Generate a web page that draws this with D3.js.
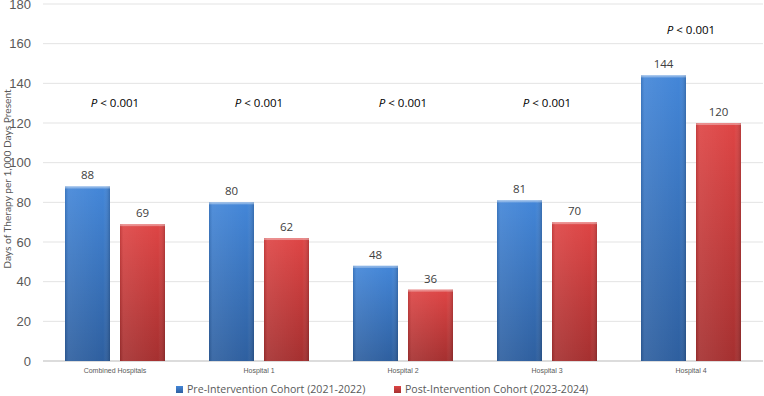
<!DOCTYPE html>
<html>
<head>
<meta charset="utf-8">
<script src="https://cdn.jsdelivr.net/npm/d3@7"></script>
<style>
  body { margin: 0; background: #fff; }
  svg { font-family: "Open Sans", "Noto Sans", sans-serif; }
</style>
</head>
<body>
<div id="chart"></div>
<script>
var categories = ["Combined Hospitals", "Hospital 1", "Hospital 2", "Hospital 3", "Hospital 4"];
var preValues = [88, 80, 48, 81, 144];
var postValues = [69, 62, 36, 70, 120];
var pLabelValues = [130, 130, 130, 130, 167];
var seriesNames = ["Pre-Intervention Cohort (2021-2022)", "Post-Intervention Cohort (2023-2024)"];
var yTicks = [0, 20, 40, 60, 80, 100, 120, 140, 160, 180];

var width = 764;
var height = 396;
var margin = { top: 4, right: 1, bottom: 35, left: 43 };
var chartWidth = width - margin.left - margin.right;
var chartHeight = height - margin.top - margin.bottom;

var svg = d3.select("#chart").append("svg")
  .attr("width", width)
  .attr("height", height);

var defs = svg.append("defs");

function addGradients(id, light, dark) {
  var v = defs.append("linearGradient").attr("id", id + "-v")
    .attr("x1", 0).attr("y1", 0).attr("x2", 0).attr("y2", 1);
  v.append("stop").attr("offset", "0%").attr("stop-color", light);
  v.append("stop").attr("offset", "100%").attr("stop-color", dark);
  var h = defs.append("linearGradient").attr("id", id + "-h")
    .attr("x1", 0).attr("y1", 0).attr("x2", 1).attr("y2", 0);
  h.append("stop").attr("offset", "0%").attr("stop-color", "#000").attr("stop-opacity", 0.12);
  h.append("stop").attr("offset", "8%").attr("stop-color", "#fff").attr("stop-opacity", 0.08);
  h.append("stop").attr("offset", "85%").attr("stop-color", "#fff").attr("stop-opacity", 0);
  h.append("stop").attr("offset", "100%").attr("stop-color", "#000").attr("stop-opacity", 0.18);
}
addGradients("blue", "#4386d8", "#2e5f9f");
addGradients("red", "#de4545", "#a53030");

var g = svg.append("g").attr("transform", "translate(" + margin.left + "," + margin.top + ")");

var x0 = d3.scaleBand().domain(categories).range([0, chartWidth]);
var y = d3.scaleLinear().domain([0, 180]).range([chartHeight, 0]);

// gridlines
g.selectAll(".grid").data(yTicks).enter().append("line")
  .attr("x1", 0).attr("x2", chartWidth)
  .attr("y1", function(d) { return y(d); })
  .attr("y2", function(d) { return y(d); })
  .attr("stroke", function(d) { return d === 0 ? "#d0d0d0" : "#e3e3e3"; })
  .attr("stroke-width", function(d) { return d === 0 ? 1.5 : 1; });

// y axis
var yAxis = g.append("g").call(d3.axisLeft(y).tickValues(yTicks).tickSize(0).tickPadding(12));
yAxis.select(".domain").remove();
yAxis.selectAll("text").attr("fill", "#595959").style("font-size", "13px");

svg.append("text")
  .attr("transform", "translate(11," + (margin.top + 175) + ") rotate(-90)")
  .attr("text-anchor", "middle")
  .attr("fill", "#595959")
  .style("font-family", "Lato, 'Open Sans', sans-serif")
  .style("font-size", "10.2px")
  .text("Days of Therapy per 1,000 Days Present");

// x axis
var xAxis = g.append("g").attr("transform", "translate(0," + chartHeight + ")")
  .call(d3.axisBottom(x0).tickSize(0).tickPadding(7));
xAxis.select(".domain").remove();
xAxis.selectAll("text").attr("fill", "#595959").style("font-size", "7px");

var barWidth = 45;
var gap = 10;

function drawBars(values, name, offset) {
  var bars = g.selectAll(".bar-" + name).data(values).enter().append("g");
  bars.append("rect")
    .attr("x", function(d, i) { return x0(categories[i]) + x0.bandwidth() / 2 + offset; })
    .attr("y", function(d) { return y(d); })
    .attr("width", barWidth)
    .attr("height", function(d) { return chartHeight - y(d); })
    .attr("fill", "url(#" + name + "-v)");
  bars.append("rect")
    .attr("x", function(d, i) { return x0(categories[i]) + x0.bandwidth() / 2 + offset; })
    .attr("y", function(d) { return y(d); })
    .attr("width", barWidth)
    .attr("height", function(d) { return chartHeight - y(d); })
    .attr("fill", "url(#" + name + "-h)");
  bars.append("rect")
    .attr("x", function(d, i) { return x0(categories[i]) + x0.bandwidth() / 2 + offset; })
    .attr("y", function(d) { return y(d); })
    .attr("width", barWidth)
    .attr("height", 2)
    .attr("fill", "#fff").attr("opacity", 0.35);
  bars.append("text")
    .attr("x", function(d, i) { return x0(categories[i]) + x0.bandwidth() / 2 + offset + barWidth / 2; })
    .attr("y", function(d) { return y(d) - 7; })
    .attr("text-anchor", "middle")
    .attr("fill", "#404040")
    .style("font-size", "11.5px")
    .text(function(d) { return d; });
}
drawBars(preValues, "blue", -barWidth - gap / 2);
drawBars(postValues, "red", gap / 2);

// p-value labels
var pLabels = g.selectAll(".plabel").data(pLabelValues).enter().append("text")
  .attr("x", function(d, i) { return x0(categories[i]) + x0.bandwidth() / 2; })
  .attr("y", function(d) { return y(d) + 4; })
  .attr("text-anchor", "middle")
  .attr("fill", "#000")
  .style("font-size", "11.5px");
pLabels.append("tspan").attr("font-style", "italic").text("P");
pLabels.append("tspan").text(" < 0.001");

// legend
var legend = svg.append("g").attr("transform", "translate(0,393)");
var legendX = [176, 394];
seriesNames.forEach(function(name, i) {
  var item = legend.append("g").attr("transform", "translate(" + legendX[i] + ",0)");
  var id = i === 0 ? "blue" : "red";
  item.append("rect").attr("x", 0).attr("y", -7).attr("width", 7).attr("height", 7)
    .attr("fill", "url(#" + id + "-v)");
  item.append("text").attr("x", 11).attr("y", 0)
    .attr("fill", "#595959")
    .style("font-size", "10.6px")
    .text(name);
});
</script>
</body>
</html>
